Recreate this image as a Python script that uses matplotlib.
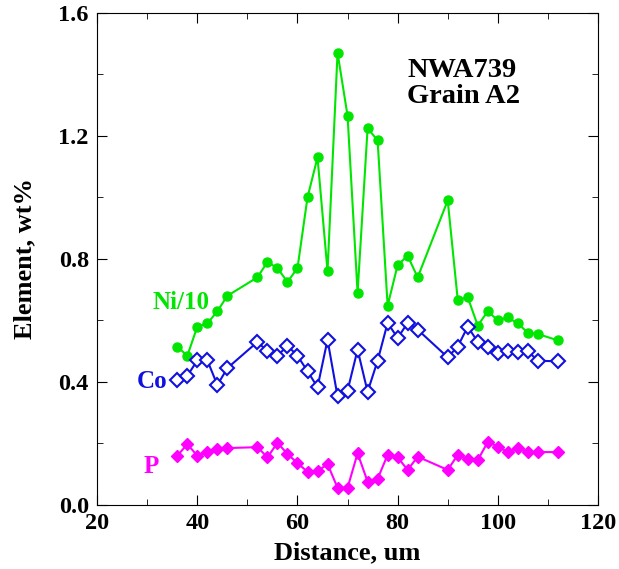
import matplotlib.pyplot as plt
from matplotlib.ticker import MultipleLocator

plt.rcParams['font.family'] = 'Liberation Serif'
plt.rcParams['font.weight'] = 'bold'

# distance along traverse, um
distance = [36, 38, 40, 42, 44, 46, 52, 54, 56, 58, 60, 62, 64, 66, 68, 70, 72,
            74, 76, 78, 80, 82, 84, 90, 92, 94, 96, 98, 100, 102, 104, 106, 108, 112]

ni_10 = [0.515, 0.485, 0.58, 0.59, 0.63, 0.68, 0.74, 0.79, 0.77, 0.725, 0.77, 1.00,
         1.13, 0.76, 1.47, 1.265, 0.69, 1.225, 1.185, 0.648, 0.78, 0.81, 0.74, 0.99,
         0.667, 0.675, 0.583, 0.63, 0.60, 0.61, 0.59, 0.56, 0.556, 0.535]

co = [0.407, 0.42, 0.47, 0.47, 0.39, 0.445, 0.53, 0.50, 0.485, 0.518, 0.485, 0.435,
      0.383, 0.537, 0.353, 0.372, 0.505, 0.368, 0.469, 0.592, 0.543, 0.592, 0.57, 0.48,
      0.515, 0.58, 0.53, 0.515, 0.494, 0.50, 0.497, 0.50, 0.469, 0.467]

p = [0.16, 0.198, 0.16, 0.173, 0.182, 0.185, 0.188, 0.155, 0.202, 0.166, 0.136, 0.108,
     0.11, 0.133, 0.056, 0.056, 0.168, 0.076, 0.085, 0.163, 0.155, 0.114, 0.157, 0.114,
     0.163, 0.15, 0.146, 0.205, 0.19, 0.172, 0.186, 0.172, 0.172, 0.172]

green = '#00e600'
blue = '#1010e0'
magenta = '#ff00ff'

fig = plt.figure(figsize=(6.19, 5.69), dpi=100)
ax = fig.add_axes([0.157, 0.1125, 0.809, 0.865])

ax.plot(distance, ni_10, '-o', color=green, lw=1.5, ms=6.5)
ax.plot(distance, co, '-D', color=blue, lw=1.5, ms=7, mfc='white', mew=1.5)
ax.plot(distance, p, '-D', color=magenta, lw=1.5, ms=6)

ax.set_xlim(20, 120)
ax.set_ylim(0, 1.6)
ax.xaxis.set_major_locator(MultipleLocator(20))
ax.xaxis.set_minor_locator(MultipleLocator(10))
ax.yaxis.set_major_locator(MultipleLocator(0.4))
ax.yaxis.set_minor_locator(MultipleLocator(0.2))
ax.yaxis.set_major_formatter(plt.FormatStrFormatter('%.1f'))
ax.tick_params(which='both', direction='in', top=True, right=True, labelsize=17.5)
ax.tick_params(which='major', length=7)
ax.tick_params(which='minor', length=4)
ax.tick_params(axis='x', pad=6)
ax.tick_params(axis='y', pad=6)

ax.set_xlabel('Distance, um', fontsize=19, fontweight='bold', labelpad=5)
ax.set_ylabel('Element, wt%', fontsize=19, fontweight='bold', labelpad=16)

ax.text(81.9, 1.307, 'NWA739\nGrain A2', fontsize=20.5, fontweight='bold',
        linespacing=1.05, va='baseline')
ax.text(31, 0.637, 'Ni/10', color=green, fontsize=18, fontweight='bold')
ax.text(28, 0.38, 'Co', color=blue, fontsize=18, fontweight='bold')
ax.text(29.2, 0.104, 'P', color=magenta, fontsize=18, fontweight='bold')

fig.savefig('out.png', dpi=100)
